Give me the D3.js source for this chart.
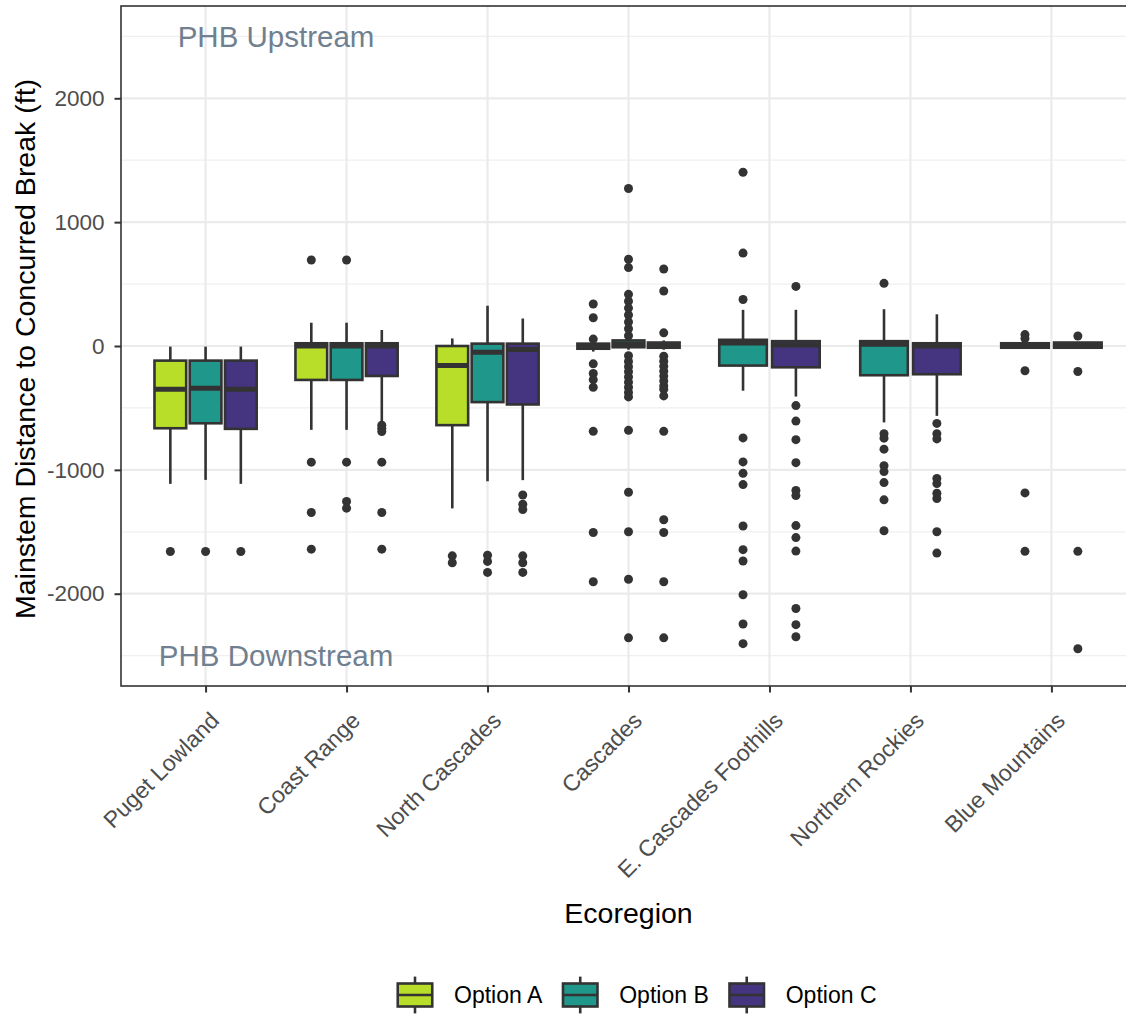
<!DOCTYPE html>
<html>
<head>
<meta charset="utf-8">
<script src="https://cdn.jsdelivr.net/npm/d3@7"></script>
<style>
  body { margin: 0; background: #fff; }
  text { font-family: "Liberation Sans", Arial, sans-serif; }
</style>
</head>
<body>
<div id="chart"></div>
<script>
// Chart size
var width = 1126;
var height = 1014;

// Categories
var ecoregions = ["Puget Lowland", "Coast Range", "North Cascades", "Cascades",
                  "E. Cascades Foothills", "Northern Rockies", "Blue Mountains"];
var options = ["Option A", "Option B", "Option C"];
var optionColors = ["#B8DE29", "#1F978B", "#453581"];

// Box stats per ecoregion: [whisker low, q1, median, q3, whisker high], null = no data
var statsA = [
    [-1113, -664, -349, -118, -5],
    [-677, -274, 0, 22, 188],
    [-1311, -639, -158, 0, 61],
    [-45, -22, 0, 19, 40],
    null, null, null
];
var statsB = [
    [-1081, -624, -341, -118, -5],
    [-677, -274, 0, 22, 188],
    [-1092, -453, -50, 19, 325],
    [-30, -10, 15, 45, 60],
    [-361, -158, 25, 50, 292],
    [-617, -236, 14, 39, 297],
    [-14, -14, 5, 22, 22]
];
var statsC = [
    [-1113, -669, -349, -118, -5],
    [-610, -242, 0, 22, 129],
    [-1083, -472, -28, 19, 222],
    [-30, -14, 0, 28, 45],
    [-408, -172, 8, 39, 292],
    [-564, -228, 0, 22, 256],
    [-14, -14, 5, 28, 28]
];

// Outliers per ecoregion
var outliersA = [
    [-1659],
    [694, -938, -1344, -1640],
    [-1694, -1750],
    [339, 228, 56, -144, -222, -272, -333, -689, -1506, -1903],
    [], [], []
];
var outliersB = [
    [-1659],
    [694, -938, -1255, -1309],
    [-1689, -1739, -1828],
    [1272, 700, 633, 417, 361, 306, 250, 194, 139, 83, -78, -125, -167, -208, -250,
     -292, -333, -375, -411, -681, -1181, -1500, -1883, -2356],
    [1403, 750, 375, -742, -936, -1028, -1119, -1453, -1644, -1736, -2008, -2244, -2403],
    [506, -708, -744, -833, -967, -1014, -1103, -1242, -1492],
    [92, 61, -200, -1186, -1658]
];
var outliersC = [
    [-1659],
    [-640, -665, -690, -938, -1344, -1640],
    [-1203, -1278, -1320, -1694, -1750, -1828],
    [622, 444, 106, -83, -123, -163, -203, -243, -283, -323, -350, -403, -689, -1403,
     -1506, -1903, -2356],
    [481, -481, -606, -756, -942, -1167, -1208, -1450, -1547, -1656, -2119, -2250, -2347],
    [-625, -708, -750, -1069, -1111, -1189, -1231, -1500, -1672],
    [81, -206, -1658, -2444]
];

// Axis ticks and annotations
var yTicks = [-2000, -1000, 0, 1000, 2000];
var yMinorTicks = [-2500, -1500, -500, 500, 1500, 2500];
var annotations = [
    { x: 1.5, y: 2500, label: "PHB Upstream" },
    { x: 1.5, y: -2500, label: "PHB Downstream" }
];

var allStats = [statsA, statsB, statsC];
var allOutliers = [outliersA, outliersB, outliersC];

// Panel layout
var panel = { left: 121, top: 6, right: 1136, bottom: 686 };
var ink = "#333333";

var svg = d3.select("#chart")
    .append("svg")
    .attr("width", width)
    .attr("height", height);

// Scales
var x = d3.scalePoint()
    .domain(ecoregions)
    .range([panel.left, panel.right])
    .padding(0.6);

var y = d3.scaleLinear()
    .domain([-2745, 2745])
    .range([panel.bottom, panel.top]);

var step = x.step();
var dodgeWidth = step * 0.75;

// Build one row per box
var boxes = [];
ecoregions.forEach(function(region, ri) {
    var present = [];
    options.forEach(function(opt, oi) {
        if (allStats[oi][ri]) present.push(oi);
    });
    var slot = dodgeWidth / present.length;
    present.forEach(function(oi, k) {
        var s = allStats[oi][ri];
        boxes.push({
            region: region,
            option: oi,
            cx: x(region) + (k - (present.length - 1) / 2) * slot,
            w: slot * 0.9,
            lo: s[0], q1: s[1], med: s[2], q3: s[3], hi: s[4],
            outliers: allOutliers[oi][ri]
        });
    });
});

svg.append("clipPath").attr("id", "panel-clip")
    .append("rect")
    .attr("x", panel.left).attr("y", panel.top)
    .attr("width", panel.right - panel.left)
    .attr("height", panel.bottom - panel.top);

var g = svg.append("g").attr("clip-path", "url(#panel-clip)");

// Grid lines
g.selectAll(".minor")
    .data(yMinorTicks)
    .enter()
    .append("line")
    .attr("x1", panel.left).attr("x2", panel.right)
    .attr("y1", function(d) { return y(d); })
    .attr("y2", function(d) { return y(d); })
    .attr("stroke", "#EFEFEF")
    .attr("stroke-width", 1.2);

g.selectAll(".major-y")
    .data(yTicks)
    .enter()
    .append("line")
    .attr("x1", panel.left).attr("x2", panel.right)
    .attr("y1", function(d) { return y(d); })
    .attr("y2", function(d) { return y(d); })
    .attr("stroke", "#EBEBEB")
    .attr("stroke-width", 2.2);

g.selectAll(".major-x")
    .data(ecoregions)
    .enter()
    .append("line")
    .attr("y1", panel.top).attr("y2", panel.bottom)
    .attr("x1", function(d) { return x(d); })
    .attr("x2", function(d) { return x(d); })
    .attr("stroke", "#EBEBEB")
    .attr("stroke-width", 2.2);

// Whiskers
var bx = g.selectAll(".box")
    .data(boxes)
    .enter()
    .append("g");

bx.append("line")
    .attr("x1", function(d) { return d.cx; })
    .attr("x2", function(d) { return d.cx; })
    .attr("y1", function(d) { return y(d.hi); })
    .attr("y2", function(d) { return y(d.q3); })
    .attr("stroke", ink)
    .attr("stroke-width", 2.6);

bx.append("line")
    .attr("x1", function(d) { return d.cx; })
    .attr("x2", function(d) { return d.cx; })
    .attr("y1", function(d) { return y(d.q1); })
    .attr("y2", function(d) { return y(d.lo); })
    .attr("stroke", ink)
    .attr("stroke-width", 2.6);

// Boxes
bx.append("rect")
    .attr("x", function(d) { return d.cx - d.w / 2; })
    .attr("width", function(d) { return d.w; })
    .attr("y", function(d) { return y(d.q3); })
    .attr("height", function(d) { return Math.max(0.5, y(d.q1) - y(d.q3)); })
    .attr("fill", function(d) { return optionColors[d.option]; })
    .attr("stroke", ink)
    .attr("stroke-width", 2.6);

// Medians
bx.append("line")
    .attr("x1", function(d) { return d.cx - d.w / 2; })
    .attr("x2", function(d) { return d.cx + d.w / 2; })
    .attr("y1", function(d) { return y(d.med); })
    .attr("y2", function(d) { return y(d.med); })
    .attr("stroke", ink)
    .attr("stroke-width", 5);

// Outliers
bx.selectAll("circle")
    .data(function(d) { return d.outliers.map(function(v) { return { cx: d.cx, v: v }; }); })
    .enter()
    .append("circle")
    .attr("cx", function(d) { return d.cx; })
    .attr("cy", function(d) { return y(d.v); })
    .attr("r", 4.5)
    .attr("fill", ink);

// Annotations (positioned in data units)
var xCont = d3.scaleLinear()
    .domain([1, ecoregions.length])
    .range([x(ecoregions[0]), x(ecoregions[ecoregions.length - 1])]);

g.selectAll(".note")
    .data(annotations)
    .enter()
    .append("text")
    .attr("x", function(d) { return xCont(d.x); })
    .attr("y", function(d) { return y(d.y); })
    .attr("dy", "0.36em")
    .attr("text-anchor", "middle")
    .style("font-size", "29.5px")
    .style("fill", "#708090")
    .text(function(d) { return d.label; });

// Panel border
svg.append("rect")
    .attr("x", panel.left).attr("y", panel.top)
    .attr("width", panel.right - panel.left)
    .attr("height", panel.bottom - panel.top)
    .attr("fill", "none")
    .attr("stroke", ink)
    .attr("stroke-width", 1.6);

// Y axis
var yAxis = svg.append("g")
    .attr("transform", "translate(" + panel.left + ",0)")
    .call(d3.axisLeft(y).tickValues(yTicks).tickSize(6.5).tickPadding(10)
        .tickFormat(function(d) { return String(d); }));
yAxis.select(".domain").remove();
yAxis.selectAll(".tick line").attr("stroke", ink).attr("stroke-width", 2);
yAxis.selectAll(".tick text")
    .style("font-size", "22.5px")
    .style("font-family", "'Liberation Sans', Arial, sans-serif")
    .attr("fill", "#4D4D4D");

// X axis
var xAxis = svg.append("g")
    .attr("transform", "translate(0," + panel.bottom + ")")
    .call(d3.axisBottom(x).tickSize(6.5).tickFormat(""));
xAxis.select(".domain").remove();
xAxis.selectAll(".tick line").attr("stroke", ink).attr("stroke-width", 2);

svg.selectAll(".xlabel")
    .data(ecoregions)
    .enter()
    .append("text")
    .attr("transform", function(d) {
        return "translate(" + (x(d) + 15) + "," + 722 + ") rotate(-45)";
    })
    .attr("text-anchor", "end")
    .style("font-size", "23px")
    .style("fill", "#4D4D4D")
    .text(function(d) { return d; });

// Axis titles
svg.append("text")
    .attr("x", (panel.left + panel.right) / 2)
    .attr("y", 923)
    .attr("text-anchor", "middle")
    .style("font-size", "28.5px")
    .style("fill", "#000")
    .text("Ecoregion");

svg.append("text")
    .attr("transform", "translate(35," + ((panel.top + panel.bottom) / 2 + 3) + ") rotate(-90)")
    .attr("text-anchor", "middle")
    .style("font-size", "28.5px")
    .style("fill", "#000")
    .text("Mainstem Distance to Concurred Break (ft)");

// Legend
var keySize = 46;
var legendY = 995;
var lx = 392;
options.forEach(function(opt, i) {
    var lg = svg.append("g").attr("transform", "translate(" + lx + "," + (legendY - keySize / 2) + ")");
    lg.append("line")
        .attr("x1", keySize / 2).attr("x2", keySize / 2)
        .attr("y1", keySize * 0.1).attr("y2", keySize * 0.9)
        .attr("stroke", ink).attr("stroke-width", 2.6);
    lg.append("rect")
        .attr("x", keySize * 0.125).attr("y", keySize * 0.25)
        .attr("width", keySize * 0.75).attr("height", keySize * 0.5)
        .attr("fill", optionColors[i])
        .attr("stroke", ink).attr("stroke-width", 2.6);
    lg.append("line")
        .attr("x1", keySize * 0.125).attr("x2", keySize * 0.875)
        .attr("y1", keySize / 2).attr("y2", keySize / 2)
        .attr("stroke", ink).attr("stroke-width", 2.6);
    var t = lg.append("text")
        .attr("x", keySize + 16)
        .attr("y", keySize / 2)
        .attr("dy", "0.36em")
        .style("font-size", "23px")
        .style("fill", "#000")
        .text(opt);
    lx += keySize + 16 + t.node().getComputedTextLength() + 15;
});
</script>
</body>
</html>
